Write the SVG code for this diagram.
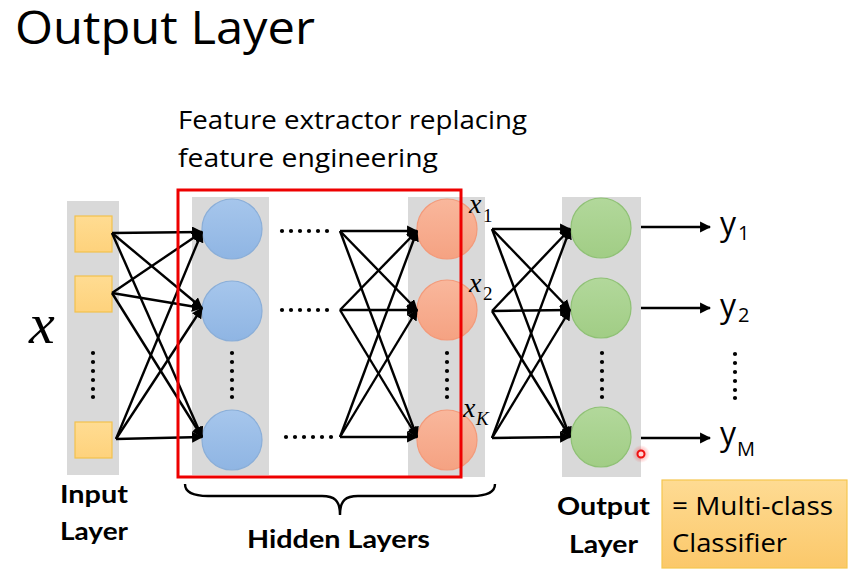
<svg xmlns="http://www.w3.org/2000/svg" width="866" height="573" viewBox="0 0 866 573">
  <defs>
    <style>
      .col { fill: #d9d9d9; }
      .sq { fill: url(#gY); stroke: #f2c14e; stroke-width: 1.2; }
      .blue { fill: url(#gB); stroke: #8aaed8; stroke-width: 1.2; }
      .orange { fill: url(#gO); stroke: #f39a7a; stroke-width: 1.2; }
      .green { fill: url(#gG); stroke: #8fc175; stroke-width: 1.2; }
      .edge { stroke: #000; stroke-width: 2.4; fill: none; marker-end: url(#arr); }
      .dot { fill: #000; }
      .lbl { font-family: "Open Sans", "Liberation Sans", sans-serif; fill: #000; }
      .bold { font-family: Lato, "Open Sans", "Liberation Sans", sans-serif; font-weight: bold; font-size: 25px; fill: #000; }
      .math { font-family: "Liberation Serif", "DejaVu Serif", serif; fill: #000; }
    </style>
    <marker id="arr" viewBox="0 0 10 10" refX="9" refY="5" markerWidth="4.6" markerHeight="4.6" orient="auto" markerUnits="strokeWidth">
      <path d="M0,0 L10,5 L0,10 z" fill="#000"/>
    </marker>
    <linearGradient id="gY" x1="0" y1="0" x2="0" y2="1"><stop offset="0" stop-color="#ffdc92"/><stop offset="1" stop-color="#fed27c"/></linearGradient>
    <linearGradient id="gB" x1="0" y1="0" x2="0" y2="1"><stop offset="0" stop-color="#a6c6ec"/><stop offset="1" stop-color="#8fb5e3"/></linearGradient>
    <linearGradient id="gO" x1="0" y1="0" x2="0" y2="1"><stop offset="0" stop-color="#f9b79c"/><stop offset="1" stop-color="#f5a282"/></linearGradient>
    <linearGradient id="gG" x1="0" y1="0" x2="0" y2="1"><stop offset="0" stop-color="#b2d89b"/><stop offset="1" stop-color="#a1cd85"/></linearGradient>
    <linearGradient id="gBox" x1="0" y1="0" x2="0" y2="1"><stop offset="0" stop-color="#fedb93"/><stop offset="1" stop-color="#fbc86a"/></linearGradient>
    <radialGradient id="glow"><stop offset="0" stop-color="#ff2a2a" stop-opacity="0.55"/><stop offset="1" stop-color="#ff2a2a" stop-opacity="0"/></radialGradient>
  </defs>
  <rect width="866" height="573" fill="#fff"/>

  <text class="lbl" x="15" y="44" font-size="46" textLength="300" lengthAdjust="spacingAndGlyphs">Output Layer</text>

  <g id="feature-text">
    <text class="lbl" x="178" y="129" font-size="25" textLength="349" lengthAdjust="spacingAndGlyphs">Feature extractor replacing</text>
    <text class="lbl" x="178" y="167" font-size="25" textLength="260" lengthAdjust="spacingAndGlyphs">feature engineering</text>
  </g>

  <g id="input-layer">
    <rect class="col" x="67" y="201" width="52" height="274"/>
    <rect class="sq" x="75" y="216" width="37" height="36"/>
    <rect class="sq" x="75" y="276" width="37" height="36"/>
    <rect class="sq" x="75" y="422" width="37" height="36"/>
    <g class="dot"><circle cx="93" cy="353" r="2.1"/><circle cx="93" cy="362" r="2.1"/><circle cx="93" cy="371" r="2.1"/><circle cx="93" cy="380" r="2.1"/><circle cx="93" cy="389" r="2.1"/><circle cx="93" cy="397" r="2.1"/></g>
  </g>

  <text id="x-input" class="math" x="29" y="343" font-size="58" font-style="italic">x</text>

  <g id="hidden-layer-1">
    <rect class="col" x="192" y="197" width="77" height="278"/>
    <circle class="blue" cx="232" cy="229" r="30"/>
    <circle class="blue" cx="232" cy="311" r="30"/>
    <circle class="blue" cx="232" cy="440" r="30"/>
    <g class="dot"><circle cx="232" cy="353" r="2.1"/><circle cx="232" cy="362" r="2.1"/><circle cx="232" cy="371" r="2.1"/><circle cx="232" cy="380" r="2.1"/><circle cx="232" cy="389" r="2.1"/><circle cx="232" cy="397" r="2.1"/></g>
  </g>

  <g id="hidden-dots">
    <g class="dot"><circle cx="282" cy="231" r="2.1"/><circle cx="291" cy="231" r="2.1"/><circle cx="300" cy="231" r="2.1"/><circle cx="309" cy="231" r="2.1"/><circle cx="318" cy="231" r="2.1"/><circle cx="327" cy="231" r="2.1"/></g>
    <g class="dot"><circle cx="282" cy="310" r="2.1"/><circle cx="291" cy="310" r="2.1"/><circle cx="300" cy="310" r="2.1"/><circle cx="309" cy="310" r="2.1"/><circle cx="318" cy="310" r="2.1"/><circle cx="327" cy="310" r="2.1"/></g>
    <g class="dot"><circle cx="286" cy="437" r="2.1"/><circle cx="295" cy="437" r="2.1"/><circle cx="304" cy="437" r="2.1"/><circle cx="313" cy="437" r="2.1"/><circle cx="322" cy="437" r="2.1"/><circle cx="331" cy="437" r="2.1"/></g>
  </g>

  <g id="hidden-layer-last">
    <rect class="col" x="408" y="197" width="77" height="280"/>
    <circle class="orange" cx="447" cy="229" r="30"/>
    <circle class="orange" cx="447" cy="310" r="30"/>
    <circle class="orange" cx="447" cy="440" r="30"/>
    <g class="dot"><circle cx="447" cy="353" r="2.1"/><circle cx="447" cy="362" r="2.1"/><circle cx="447" cy="371" r="2.1"/><circle cx="447" cy="380" r="2.1"/><circle cx="447" cy="389" r="2.1"/><circle cx="447" cy="397" r="2.1"/></g>
  </g>

  <g id="feature-labels">
    <text class="math" x="469" y="213" font-size="28" font-style="italic">x</text>
    <text class="math" x="483" y="222" font-size="19">1</text>
    <text class="math" x="469" y="292" font-size="28" font-style="italic">x</text>
    <text class="math" x="483" y="300" font-size="19">2</text>
    <text class="math" x="463" y="417" font-size="28" font-style="italic">x</text>
    <text class="math" x="476" y="425" font-size="19" font-style="italic">K</text>
  </g>

  <g id="output-layer">
    <rect class="col" x="562" y="197" width="79" height="280"/>
    <circle class="green" cx="601" cy="228" r="30"/>
    <circle class="green" cx="601" cy="308" r="30"/>
    <circle class="green" cx="601" cy="437" r="30"/>
    <g class="dot"><circle cx="602" cy="353" r="2.1"/><circle cx="602" cy="362" r="2.1"/><circle cx="602" cy="371" r="2.1"/><circle cx="602" cy="380" r="2.1"/><circle cx="602" cy="389" r="2.1"/><circle cx="602" cy="397" r="2.1"/></g>
  </g>

  <g id="connectors">
    <line class="edge" x1="112" y1="233" x2="202" y2="232"/>
    <line class="edge" x1="112" y1="233" x2="202" y2="308"/>
    <line class="edge" x1="112" y1="233" x2="202" y2="437"/>
    <line class="edge" x1="112" y1="293" x2="202" y2="232"/>
    <line class="edge" x1="112" y1="293" x2="202" y2="308"/>
    <line class="edge" x1="112" y1="293" x2="202" y2="437"/>
    <line class="edge" x1="116" y1="439" x2="202" y2="232"/>
    <line class="edge" x1="116" y1="439" x2="202" y2="308"/>
    <line class="edge" x1="116" y1="439" x2="202" y2="437"/>

    <line class="edge" x1="340" y1="231" x2="417" y2="231"/>
    <line class="edge" x1="340" y1="231" x2="417" y2="310"/>
    <line class="edge" x1="340" y1="231" x2="417" y2="437"/>
    <line class="edge" x1="340" y1="310" x2="417" y2="231"/>
    <line class="edge" x1="340" y1="310" x2="417" y2="310"/>
    <line class="edge" x1="340" y1="310" x2="417" y2="437"/>
    <line class="edge" x1="340" y1="437" x2="417" y2="231"/>
    <line class="edge" x1="340" y1="437" x2="417" y2="310"/>
    <line class="edge" x1="340" y1="437" x2="417" y2="437"/>

    <line class="edge" x1="492" y1="229" x2="570" y2="229"/>
    <line class="edge" x1="492" y1="229" x2="570" y2="310"/>
    <line class="edge" x1="492" y1="229" x2="570" y2="437"/>
    <line class="edge" x1="492" y1="311" x2="570" y2="229"/>
    <line class="edge" x1="492" y1="311" x2="570" y2="310"/>
    <line class="edge" x1="492" y1="311" x2="570" y2="437"/>
    <line class="edge" x1="492" y1="438" x2="570" y2="229"/>
    <line class="edge" x1="492" y1="438" x2="570" y2="310"/>
    <line class="edge" x1="492" y1="438" x2="570" y2="437"/>

    <line class="edge" x1="641" y1="227" x2="710" y2="227"/>
    <line class="edge" x1="641" y1="308" x2="710" y2="308"/>
    <line class="edge" x1="641" y1="438" x2="710" y2="438"/>
  </g>

  <g id="outputs">
    <text class="lbl" x="720" y="235" font-size="32">y</text>
    <text class="lbl" x="738" y="240" font-size="20">1</text>
    <text class="lbl" x="720" y="317" font-size="32">y</text>
    <text class="lbl" x="738" y="322" font-size="20">2</text>
    <text class="lbl" x="720" y="445" font-size="32">y</text>
    <text class="lbl" x="737" y="456" font-size="20">M</text>
    <g class="dot"><circle cx="735" cy="354" r="2.1"/><circle cx="735" cy="363" r="2.1"/><circle cx="735" cy="372" r="2.1"/><circle cx="735" cy="381" r="2.1"/><circle cx="735" cy="390" r="2.1"/><circle cx="735" cy="398" r="2.1"/></g>
  </g>

  <rect id="feature-extractor-box" x="178" y="190" width="283" height="287" fill="none" stroke="#ee0000" stroke-width="3"/>

  <path id="brace" d="M185,484 C185,493 194,496 208,496 L322,496 C334,496 340,500 340,515 C340,500 346,496 358,496 L472,496 C486,496 495,493 495,484" fill="none" stroke="#000" stroke-width="2.4"/>

  <g id="labels">
    <text class="bold" x="60" y="503" textLength="68" lengthAdjust="spacingAndGlyphs">Input</text>
    <text class="bold" x="60" y="540" textLength="68" lengthAdjust="spacingAndGlyphs">Layer</text>
    <text class="bold" x="247" y="548" textLength="183" lengthAdjust="spacingAndGlyphs">Hidden Layers</text>
    <text class="bold" x="557" y="515" textLength="93" lengthAdjust="spacingAndGlyphs">Output</text>
    <text class="bold" x="569" y="553" textLength="69" lengthAdjust="spacingAndGlyphs">Layer</text>
  </g>

  <g id="classifier-note">
    <rect x="662" y="480" width="185" height="88" fill="url(#gBox)" stroke="#f5c64f" stroke-width="1.2"/>
    <text class="lbl" x="672" y="515" font-size="25" textLength="161" lengthAdjust="spacingAndGlyphs">= Multi-class</text>
    <text class="lbl" x="672" y="552" font-size="25" textLength="115" lengthAdjust="spacingAndGlyphs">Classifier</text>
  </g>

  <g id="pointer">
    <circle cx="641" cy="454" r="9" fill="url(#glow)"/>
    <circle cx="641" cy="454" r="3.5" fill="#ffd6d6" stroke="#ee1111" stroke-width="2"/>
  </g>
</svg>
